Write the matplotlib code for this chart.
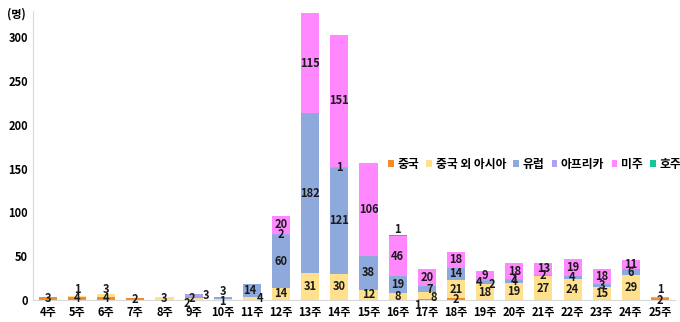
import matplotlib
matplotlib.use("Agg")
import matplotlib.pyplot as plt
import numpy as np

plt.rcParams['font.family'] = ['Noto Sans CJK KR', 'DejaVu Sans']

weeks = ["4주", "5주", "6주", "7주", "8주", "9주", "10주", "11주", "12주", "13주", "14주",
         "15주", "16주", "17주", "18주", "19주", "20주", "21주", "22주", "23주", "24주", "25주"]

china  = [3, 4, 4, 2, 0, 0, 0, 0, 0, 0, 0, 0, 0, 1, 2, 0, 0, 0, 0, 0, 0, 2]
asia   = [0, 1, 3, 0, 3, 2, 1, 4, 14, 31, 30, 12, 8, 8, 21, 18, 19, 27, 24, 15, 29, 0]
europe = [0, 0, 0, 0, 0, 2, 3, 14, 60, 182, 121, 38, 19, 7, 14, 4, 4, 2, 4, 3, 6, 0]
africa = [0, 0, 0, 0, 0, 3, 0, 0, 2, 0, 1, 0, 0, 0, 0, 2, 1, 0, 0, 0, 0, 0]
america = [0, 0, 0, 0, 0, 0, 0, 0, 20, 115, 151, 106, 46, 20, 18, 9, 18, 13, 19, 18, 11, 1]
oceania = [0, 0, 0, 0, 0, 0, 0, 0, 0, 0, 0, 0, 1, 0, 0, 0, 0, 0, 0, 0, 0, 0]

series = [("중국", china, "#F28C28"),
          ("중국 외 아시아", asia, "#FFE08C"),
          ("유럽", europe, "#8EA9DB"),
          ("아프리카", africa, "#A9A3F2"),
          ("미주", america, "#FF88FF"),
          ("호주", oceania, "#16C79A")]

# label nudges (points) for tiny segments, keyed by (week index, series index)
nudge = {(1, 1): (0, 5), (2, 1): (0, 4.5),
         (5, 1): (-5, -3), (5, 2): (-1, -1), (5, 3): (9, 0),
         (6, 2): (0, 4.5), (6, 1): (0, -1),
         (7, 2): (-1.5, 0), (7, 1): (6, 0),
         (12, 5): (0, 4.5),
         (13, 0): (-7, -4), (13, 1): (5, -1), (13, 2): (2, 0),
         (15, 2): (-4, 0), (15, 3): (5, -3),
         (21, 0): (0, -1), (21, 4): (0, 6)}

fig = plt.figure(figsize=(6.8, 3.22), dpi=100)
ax = fig.add_axes([0.049, 0.068, 0.943, 0.898])

x = np.arange(len(weeks))
bottom = np.zeros(len(weeks))
for k, (name, vals, color) in enumerate(series):
    vals = np.array(vals, dtype=float)
    ax.bar(x, vals, 0.62, bottom=bottom, color=color, label=name)
    for i, v in enumerate(vals):
        if v > 0:
            dx, dy = nudge.get((i, k), (0, 0))
            ax.annotate(str(int(v)), (x[i], bottom[i] + v / 2), xytext=(dx, dy),
                        textcoords="offset points", ha="center", va="center",
                        fontsize=8, fontweight="bold", color="#1a1a1a")
    bottom += vals

ax.set_xlim(-0.5, len(weeks) - 0.5)
ax.set_ylim(0, 330)
ax.set_yticks([0, 50, 100, 150, 200, 250, 300])
ax.set_xticks(x)
ax.set_xticklabels(weeks)
for lab in ax.get_xticklabels() + ax.get_yticklabels():
    lab.set_fontweight("bold")
    lab.set_fontsize(8)
ax.tick_params(length=0, pad=4)
for s in ["top", "right"]:
    ax.spines[s].set_visible(False)
ax.spines["left"].set_color("#d9d9d9")
ax.spines["bottom"].set_color("#d9d9d9")

fig.text(0.01, 0.945, "(명)", fontsize=8, fontweight="bold")

leg = ax.legend(loc="center left", bbox_to_anchor=(0.553, 0.47), ncol=6, frameon=False,
                handlelength=0.5, handleheight=0.5, handletextpad=0.3, columnspacing=0.6,
                borderaxespad=0, borderpad=0, prop={"weight": "bold", "size": 8.5})

fig.savefig("out.png", dpi=100)
